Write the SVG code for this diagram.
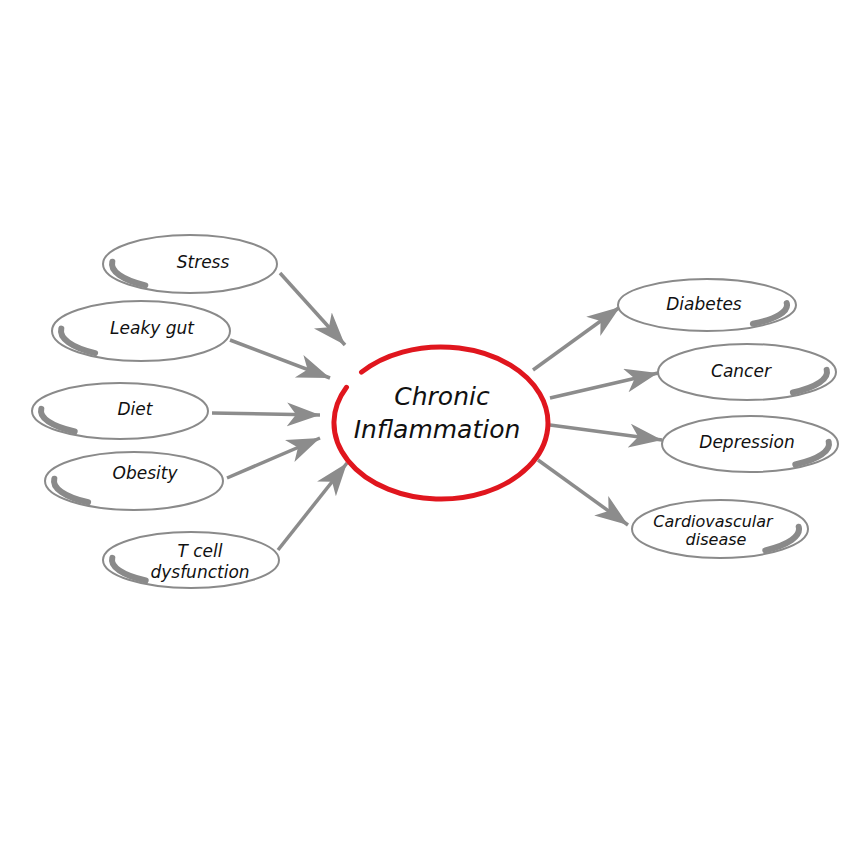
<svg xmlns="http://www.w3.org/2000/svg" width="861" height="861" viewBox="0 0 861 861">
<style>
.bg{fill:#ffffff}
.node{fill:#ffffff;stroke:#8a8a8a;stroke-width:2}
.shade{fill:none;stroke:#8a8a8a;stroke-width:6;stroke-linecap:round}
.lbl{font-family:"DejaVu Sans","Liberation Sans",sans-serif;font-style:italic;font-size:17px;fill:#111;text-anchor:middle}
.sm{font-size:16px}
.big{font-family:"DejaVu Sans","Liberation Sans",sans-serif;font-style:italic;font-size:25px;fill:#111;text-anchor:middle}
.conn{stroke:#8c8c8c;stroke-width:3.5;fill:none;marker-end:url(#ah)}
</style>
<defs>
<marker id="ah" markerUnits="userSpaceOnUse" markerWidth="36" markerHeight="26" refX="33" refY="12" orient="auto">
<path d="M0,0 L33,12 L0,24 L9,12 Z" fill="#8c8c8c"/>
</marker>
</defs>
<rect class="bg" x="0" y="0" width="861" height="861"/>
<g id="connectors">
<line class="conn" x1="280" y1="273" x2="345" y2="345"/>
<line class="conn" x1="230" y1="340" x2="330" y2="378"/>
<line class="conn" x1="212" y1="413" x2="320" y2="415"/>
<line class="conn" x1="227" y1="478" x2="320" y2="438"/>
<line class="conn" x1="278" y1="550" x2="347" y2="463"/>
<line class="conn" x1="533" y1="370" x2="620" y2="307"/>
<line class="conn" x1="550" y1="398" x2="658" y2="373"/>
<line class="conn" x1="550" y1="425" x2="662" y2="440"/>
<line class="conn" x1="538" y1="460" x2="628" y2="525"/>
</g>
<g id="center">
<path d="M361.5,372.1 A107,76 0 1 1 346.5,387.3" fill="#ffffff" stroke="#e0161e" stroke-width="5" stroke-linecap="round"/>
<text class="big" x="442" y="405">Chronic</text>
<text class="big" x="437" y="438">Inflammation</text>
</g>
<g id="stress">
<ellipse class="node" cx="190" cy="264" rx="87" ry="29"/>
<path class="shade" d="M112.3,261.7 A78,26 0 0 0 145.3,285.3"/>
<text class="lbl" x="203" y="268">Stress</text>
</g>
<g id="leaky-gut">
<ellipse class="node" cx="141" cy="331" rx="89" ry="30"/>
<path class="shade" d="M61.3,328.6 A80,27 0 0 0 95.1,353.1"/>
<text class="lbl" x="152" y="334">Leaky gut</text>
</g>
<g id="diet">
<ellipse class="node" cx="120" cy="411" rx="88" ry="28"/>
<path class="shade" d="M41.3,408.8 A79,25 0 0 0 74.7,431.5"/>
<text class="lbl" x="135" y="415">Diet</text>
</g>
<g id="obesity">
<ellipse class="node" cx="134" cy="481" rx="89" ry="29"/>
<path class="shade" d="M54.3,478.7 A80,26 0 0 0 88.1,502.3"/>
<text class="lbl" x="145" y="479">Obesity</text>
</g>
<g id="tcell">
<ellipse class="node" cx="191" cy="560" rx="88" ry="28"/>
<path class="shade" d="M112.3,557.8 A79,25 0 0 0 145.7,580.5"/>
<text class="lbl" x="200" y="557">T cell</text>
<text class="lbl" x="200" y="578">dysfunction</text>
</g>
<g id="diabetes">
<ellipse class="node" cx="707" cy="305" rx="89" ry="26"/>
<path class="shade" d="M786.7,303 A80,23 0 0 1 752.9,323.8"/>
<text class="lbl" x="704" y="310">Diabetes</text>
</g>
<g id="cancer">
<ellipse class="node" cx="747" cy="372" rx="89" ry="28"/>
<path class="shade" d="M826.7,369.8 A80,25 0 0 1 792.9,392.5"/>
<text class="lbl" x="741" y="377">Cancer</text>
</g>
<g id="depression">
<ellipse class="node" cx="750" cy="444" rx="88" ry="28"/>
<path class="shade" d="M828.7,441.8 A79,25 0 0 1 795.3,464.5"/>
<text class="lbl" x="747" y="448">Depression</text>
</g>
<g id="cardio">
<ellipse class="node" cx="720" cy="529" rx="88" ry="29"/>
<path class="shade" d="M798.7,526.7 A79,26 0 0 1 765.3,550.3"/>
<text class="lbl sm" x="713" y="527">Cardiovascular</text>
<text class="lbl sm" x="716" y="545">disease</text>
</g>
</svg>
